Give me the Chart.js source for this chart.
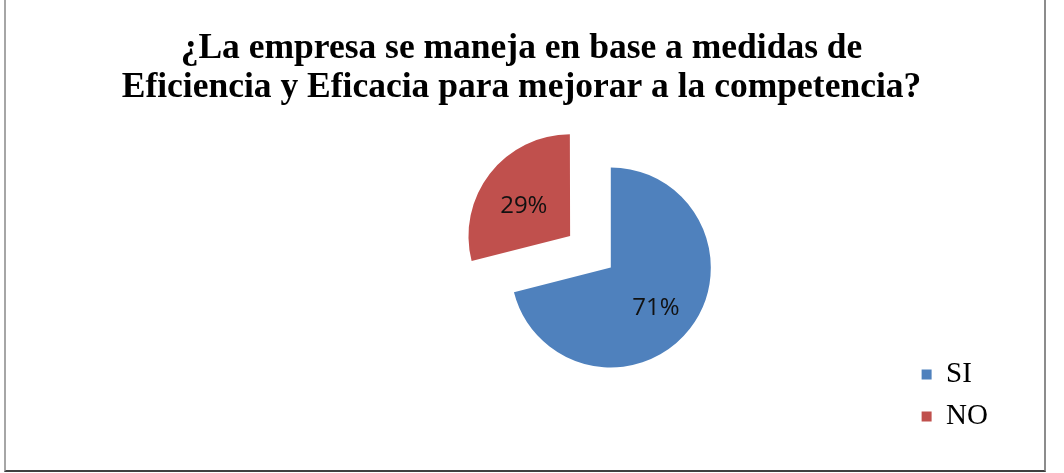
<!DOCTYPE html>
<html>
<head>
<meta charset="utf-8">
<script src="https://cdn.jsdelivr.net/npm/chart.js@4/dist/chart.umd.min.js"></script>
<style>
  body { margin: 0; background: #fff; overflow: hidden; }
  #frame {
    position: absolute; left: 4px; top: -3px; width: 1038px; height: 471px;
    border-left: 2px solid #a6a6a6; border-right: 2px solid #8c8c8c;
    border-top: 2px solid #999; border-bottom: 2px solid #404040;
  }
</style>
</head>
<body>
<div id="frame"><canvas id="myChart" width="1038" height="471"></canvas></div>
<script>
var titleLines = ["¿La empresa se maneja en base a medidas de", "Eficiencia y Eficacia para mejorar a la competencia?"];
var categories = ["SI", "NO"];
var percentages = [71, 29];
var sliceColors = ["#4F81BD", "#C0504D"];
var sliceOffsets = [0, 206];

// move the pie away from the middle of the chart area, like the Excel original
var pieShift = { x: 134, y: -8 };

var shiftPie = {
  id: "shiftPie",
  afterLayout: function(chart) {
    var a = chart.chartArea;
    a.left += pieShift.x; a.right += pieShift.x;
    a.top += pieShift.y; a.bottom += pieShift.y;
  }
};

var sliceLabels = {
  id: "sliceLabels",
  afterDatasetsDraw: function(chart) {
    var ctx = chart.ctx;
    var meta = chart.getDatasetMeta(0);
    ctx.save();
    ctx.font = "24px 'Open Sans'";
    ctx.fillStyle = "#111";
    ctx.textAlign = "center";
    ctx.textBaseline = "middle";
    meta.data.forEach(function(arc, i) {
      var p = arc.getProps(["x", "y", "startAngle", "endAngle", "outerRadius"], true);
      var half = (p.startAngle + p.endAngle) / 2;
      var off = (arc.options.offset || 0) / 4;
      var fix = 1 - Math.sin(Math.min(Math.PI, p.endAngle - p.startAngle));
      var shift = off * (1 + fix);
      var r = shift + p.outerRadius * 0.57;
      ctx.fillText(percentages[i] + "%", p.x + Math.cos(half) * r, p.y + Math.sin(half) * r + 6);
    });
    ctx.restore();
  }
};

document.addEventListener("DOMContentLoaded", function() {
  var ctx = document.getElementById("myChart").getContext("2d");
  var myChart = new Chart(ctx, {
    type: "pie",
    data: {
      labels: categories,
      datasets: [{
        data: percentages,
        backgroundColor: sliceColors,
        borderWidth: 0,
        offset: sliceOffsets
      }]
    },
    options: {
      responsive: false,
      animation: false,
      radius: 100,
      layout: { padding: { left: 39, right: 46, top: 0, bottom: 26 } },
      plugins: {
        title: {
          display: true,
          text: titleLines,
          color: "#000",
          font: { family: "'Liberation Serif', 'Times New Roman', serif", size: 35.5, weight: "bold", lineHeight: "39px" },
          padding: { top: 30, bottom: 0 }
        },
        legend: {
          position: "right",
          align: "end",
          labels: {
            boxWidth: 10,
            boxHeight: 10,
            padding: 13,
            color: "#000",
            font: { family: "'Liberation Serif', 'Times New Roman', serif", size: 29 }
          }
        },
        tooltip: { enabled: false }
      }
    },
    plugins: [shiftPie, sliceLabels]
  });
});
</script>
</body>
</html>
